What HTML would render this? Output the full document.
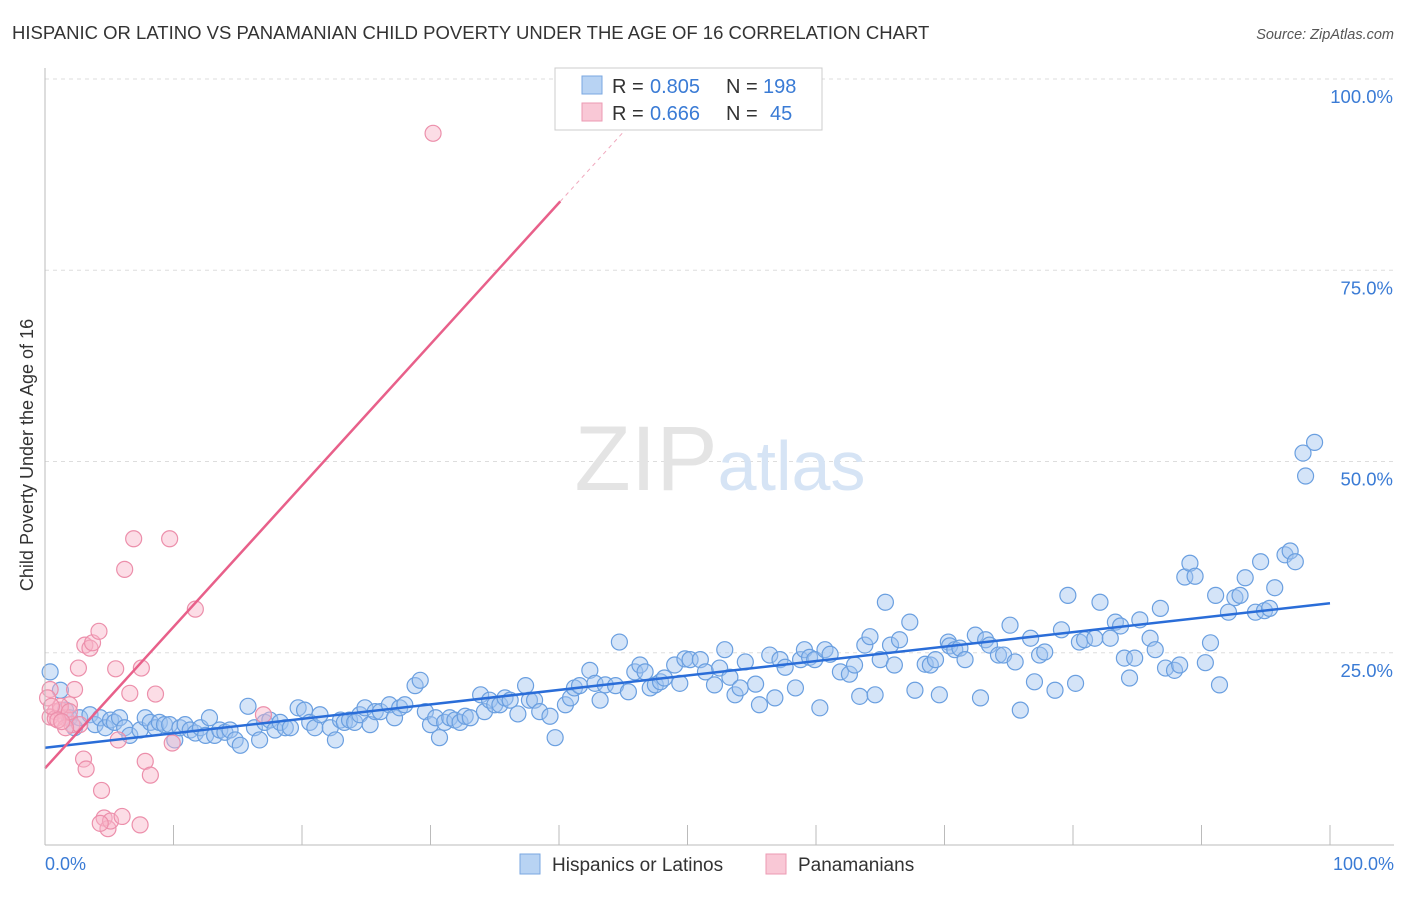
<!DOCTYPE html>
<html><head><meta charset="utf-8"><style>
body{margin:0;background:#fff;font-family:"Liberation Sans",sans-serif;}
svg text{font-family:"Liberation Sans",sans-serif;}
</style></head><body>
<svg width="1406" height="892">
<text x="12" y="39" font-size="18.5" fill="#333">HISPANIC OR LATINO VS PANAMANIAN CHILD POVERTY UNDER THE AGE OF 16 CORRELATION CHART</text>
<text x="1394" y="39" font-size="14.5" fill="#555" text-anchor="end" font-style="italic">Source: ZipAtlas.com</text>
<g id="grid"></g>
<text x="720" y="490" font-size="92" fill="#e4e4e4" text-anchor="middle" font-family="Liberation Serif">ZIP<tspan fill="#d6e4f5" font-family="Liberation Sans" font-size="70">atlas</tspan></text>
<g id="pts"></g>
<g id="lines"></g>
<line x1="45" y1="68" x2="45" y2="845" stroke="#bbb"/>
<line x1="45" y1="845" x2="1394" y2="845" stroke="#bbb"/>
<text x="45" y="870" font-size="18" fill="#3a7bd5">0.0%</text>
<text x="1394" y="870" font-size="18" fill="#3a7bd5" text-anchor="end">100.0%</text>
<text x="33" y="455" font-size="18" fill="#333" text-anchor="middle" transform="rotate(-90 33 455)">Child Poverty Under the Age of 16</text>
<g>
<rect x="555" y="68" width="267" height="62" fill="#fff" stroke="#ccc"/>
<rect x="582" y="76" width="20" height="18" fill="#b8d3f3" stroke="#7aa7e0"/>
<rect x="582" y="103" width="20" height="18" fill="#f9c8d6" stroke="#ec9ab3"/>
<text x="612" y="93" font-size="20" fill="#333">R =</text>
<text x="650" y="93" font-size="20" fill="#3a7bd5">0.805</text>
<text x="726" y="93" font-size="20" fill="#333">N =</text>
<text x="763" y="93" font-size="20" fill="#3a7bd5">198</text>
<text x="612" y="120" font-size="20" fill="#333">R =</text>
<text x="650" y="120" font-size="20" fill="#3a7bd5">0.666</text>
<text x="726" y="120" font-size="20" fill="#333">N =</text>
<text x="770" y="120" font-size="20" fill="#3a7bd5">45</text>
</g>
<g>
<rect x="520" y="854" width="20" height="20" fill="#b8d3f3" stroke="#7aa7e0"/>
<text x="552" y="871" font-size="19" fill="#333">Hispanics or Latinos</text>
<rect x="766" y="854" width="20" height="20" fill="#f9c8d6" stroke="#ec9ab3"/>
<text x="798" y="871" font-size="19" fill="#333">Panamanians</text>
</g>
</svg>
<script>
const yTicks=[25,50,75,100];
const xTicks=[10,20,30,40,50,60,70,80,90,100];
const blueX=[0.4,1.2,1.6,1.9,2.3,2.7,3.5,3.9,4.3,4.7,5.1,5.4,5.8,6.2,6.6,7.4,7.8,8.2,8.6,8.9,9.3,9.7,10.1,10.5,10.9,11.3,11.7,12.1,12.5,12.8,13.2,13.6,14.0,14.4,14.8,15.2,15.8,16.3,16.7,17.1,17.5,17.9,18.3,18.7,19.1,19.7,20.2,20.6,21.0,21.4,22.2,22.6,23.0,23.3,23.7,24.1,24.5,24.9,25.3,25.7,26.1,26.8,27.2,27.6,28.0,28.8,29.2,29.6,30.0,30.4,30.7,31.1,31.5,31.9,32.3,32.7,33.1,33.9,34.2,34.6,35.0,35.4,35.8,36.2,36.8,37.4,37.7,38.1,38.5,39.3,39.7,40.5,40.9,41.2,41.6,42.4,42.8,43.2,43.6,44.4,44.7,45.4,45.9,46.3,46.7,47.1,47.5,47.9,48.2,49.0,49.4,49.8,50.2,51.0,51.4,52.1,52.5,52.9,53.3,53.7,54.1,54.5,55.3,55.6,56.4,56.8,57.2,57.6,58.4,58.8,59.1,59.5,59.9,60.3,60.7,61.1,61.9,62.6,63.0,63.4,63.8,64.2,64.6,65.0,65.4,65.8,66.1,66.5,67.3,67.7,68.5,68.9,69.3,69.6,70.3,70.4,70.8,71.2,71.6,72.4,72.8,73.2,73.5,74.2,74.6,75.1,75.5,75.9,76.7,77.0,77.4,77.8,78.6,79.1,79.6,80.2,80.5,80.9,81.7,82.1,82.9,83.3,83.7,84.0,84.4,84.8,85.2,86.0,86.4,86.8,87.2,87.9,88.3,88.7,89.1,89.5,90.3,90.7,91.1,91.4,92.1,92.6,93.0,93.4,94.2,94.6,94.9,95.3,95.7,96.5,96.9,97.3,97.9,98.1,98.8];
const blueY=[22.5,20.1,17.5,16.5,15.2,16.5,16.9,15.6,16.5,15.2,16.2,15.9,16.5,15.2,14.2,14.9,16.5,15.9,15.2,15.9,15.6,15.6,13.6,15.2,15.6,14.9,14.5,15.2,14.2,16.5,14.2,14.9,14.6,14.9,13.6,12.9,18.0,15.2,13.6,15.9,16.2,14.9,15.9,15.2,15.2,17.8,17.5,15.9,15.2,16.9,15.2,13.6,16.2,15.9,16.2,15.9,16.9,17.8,15.6,17.3,17.3,18.2,16.5,17.8,18.2,20.7,21.4,17.3,15.6,16.5,13.9,15.9,16.5,16.2,15.9,16.7,16.5,19.5,17.3,18.8,18.2,18.2,19.1,18.8,17.0,20.7,18.8,18.8,17.3,16.7,13.9,18.2,19.1,20.4,20.7,22.7,21.0,18.8,20.8,20.7,26.4,19.9,22.5,23.4,22.5,20.4,20.8,21.2,21.7,23.4,21.0,24.2,24.1,24.1,22.5,20.8,23.0,25.4,21.8,19.5,20.4,23.8,20.9,18.2,24.7,19.1,24.1,23.1,20.4,24.1,25.4,24.4,24.1,17.8,25.4,24.8,22.5,22.2,23.4,19.3,26.0,27.1,19.5,24.1,31.6,26.0,23.4,26.7,29.0,20.1,23.5,23.4,24.1,19.5,26.4,25.9,25.4,25.6,24.1,27.3,19.1,26.7,26.0,24.7,24.7,28.6,23.8,17.5,26.9,21.2,24.7,25.1,20.1,28.0,32.5,21.0,26.4,26.7,26.9,31.6,26.9,29.0,28.5,24.3,21.7,24.3,29.3,26.9,25.4,30.8,23.0,22.7,23.4,34.9,36.7,35.0,23.7,26.3,32.5,20.8,30.3,32.2,32.5,34.8,30.3,36.9,30.5,30.8,33.5,37.8,38.3,36.9,51.1,48.1,52.5];
const pinkX=[30.2,0.4,0.8,1.2,1.6,1.9,2.1,2.3,2.6,2.7,3,3.1,3.2,3.5,3.7,4.2,4.4,4.6,4.9,5.1,5.5,5.7,6,6.2,6.6,6.9,7.4,7.5,7.8,8.2,8.6,9.7,9.9,11.7,17.0,0.4,0.8,1.2,1.6,1.9,0.2,0.5,1.0,1.3,4.3];
const pinkY=[92.9,20.2,17.3,17.5,16.5,18.2,15.6,20.2,23.0,15.6,11.1,26.0,9.8,25.6,26.3,27.8,7.0,3.4,2.0,3.0,22.9,13.6,3.6,35.9,19.7,39.9,2.5,23.0,10.8,9.0,19.6,39.9,13.2,30.7,16.9,16.6,16.4,18.0,15.2,17.3,19.1,18.0,16.2,16.0,2.7];
const NS='http://www.w3.org/2000/svg';
const X0=45,X1=1330,Y0=844,Y100=79;
const sx=v=>X0+(X1-X0)*v/100, sy=v=>Y0-(Y0-Y100)*v/100;
const grid=document.getElementById('grid');
yTicks.forEach(t=>{
 const l=document.createElementNS(NS,'line');
 l.setAttribute('x1',45);l.setAttribute('x2',1394);l.setAttribute('y1',sy(t));l.setAttribute('y2',sy(t));
 l.setAttribute('stroke','#ddd');l.setAttribute('stroke-dasharray','4,4');
 
 
 grid.appendChild(l);
 const tx=document.createElementNS(NS,'text');
 tx.setAttribute('x',1393);tx.setAttribute('y',sy(t)+24);tx.setAttribute('text-anchor','end');
 tx.setAttribute('font-size','18.5');tx.setAttribute('fill','#3a7bd5');tx.textContent=t.toFixed(1)+'%';
 
 
 grid.appendChild(tx);
});
xTicks.forEach(t=>{
 const l=document.createElementNS(NS,'line');
 l.setAttribute('x1',sx(t));l.setAttribute('x2',sx(t));l.setAttribute('y1',825);l.setAttribute('y2',845);
 l.setAttribute('stroke','#bbb');
 
 
 grid.appendChild(l);
});
const pts=document.getElementById('pts');
function dots(xs,ys,fill,stroke,name){
 xs.forEach((x,i)=>{
  const c=document.createElementNS(NS,'circle');
  c.setAttribute('cx',sx(x));c.setAttribute('cy',sy(ys[i]));c.setAttribute('r',8);
  c.setAttribute('fill',fill);c.setAttribute('stroke',stroke);c.setAttribute('stroke-width','1.2');
  
  
  pts.appendChild(c);
 });
}
dots(blueX,blueY,'rgba(160,195,240,0.45)','#6a9fe0','hispanic-point');
dots(pinkX,pinkY,'rgba(248,180,200,0.45)','#ec8fab','panamanian-point');
function fit(xs,ys){const n=xs.length;let mx=0,my=0;xs.forEach((x,i)=>{mx+=x;my+=ys[i]});mx/=n;my/=n;let a=0,b=0;xs.forEach((x,i)=>{a+=(x-mx)*(ys[i]-my);b+=(x-mx)*(x-mx)});const s=a/b;return [s,my-s*mx];}
const lines=document.getElementById('lines');
function ln(x1,y1,x2,y2,col,w,dash,name){
 const l=document.createElementNS(NS,'line');
 l.setAttribute('x1',sx(x1));l.setAttribute('y1',sy(y1));l.setAttribute('x2',sx(x2));l.setAttribute('y2',sy(y2));
 l.setAttribute('stroke',col);l.setAttribute('stroke-width',w);if(dash)l.setAttribute('stroke-dasharray',dash);
 
 
 lines.appendChild(l);
}
const [bs,bi]=fit(blueX,blueY);
ln(0,bi,100,bi+bs*100,'#2a6dd8',2.5,null,'hispanic-trend-line');
const ps=(84.0-9.9)/40.1, pi=9.9;
ln(0,pi,40.1,pi+ps*40.1,'#e8608a',2.5,null,'panamanian-trend-line');
ln(40.1,pi+ps*40.1,46,pi+ps*46,'#f0a8bd',1,'4,4','panamanian-trend-extension');
</script>
</body></html>
